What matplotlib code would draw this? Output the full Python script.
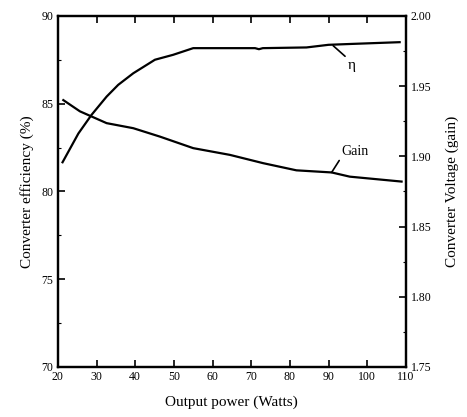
import matplotlib
matplotlib.use('Agg')
import matplotlib.pyplot as plt
from matplotlib.ticker import MultipleLocator

plt.rcParams['font.family'] = ['Liberation Serif', 'DejaVu Serif']

# efficiency curve (left axis)
eff_power = [21.2, 25.3, 28.7, 32.6, 35.6, 39.5, 45.1, 49.8, 55.0, 71.0, 72.0, 73.0, 84.3, 90.0, 95.9, 108.4]
eff_value = [81.66, 83.3, 84.36, 85.4, 86.07, 86.73, 87.5, 87.78, 88.16, 88.16, 88.10, 88.16, 88.20, 88.35, 88.40, 88.5]

# voltage gain curve (right axis)
gain_power = [21.4, 25.7, 32.6, 39.5, 46.4, 55.0, 64.5, 73.1, 81.7, 90.8, 95.5, 108.9]
gain_value = [1.940, 1.932, 1.9236, 1.920, 1.914, 1.9058, 1.901, 1.8951, 1.890, 1.8885, 1.8855, 1.882]

x_ticks = [20, 30, 40, 50, 60, 70, 80, 90, 100, 110]
x_tick_labels = ['20', '30', '40', '50', '60', '70', '80', '90', '100', '110']

fig = plt.figure(figsize=(4.67, 4.17), dpi=100)
ax = fig.add_axes([0.124, 0.120, 0.745, 0.842])
ax2 = ax.twinx()

ax.plot(eff_power, eff_value, color='black', lw=1.6)
ax2.plot(gain_power, gain_value, color='black', lw=1.6)

ax.set_xlim(20, 110)
ax.set_ylim(70, 90)
ax2.set_ylim(1.75, 2.00)

ax.set_xticks(x_ticks)
ax.set_xticklabels(x_tick_labels)
ax.set_yticks([70, 75, 80, 85, 90])
ax.yaxis.set_minor_locator(MultipleLocator(2.5))
ax2.set_yticks([1.75, 1.80, 1.85, 1.90, 1.95, 2.00])
ax2.set_yticklabels(['1.75', '1.80', '1.85', '1.90', '1.95', '2.00'])
ax2.yaxis.set_minor_locator(MultipleLocator(0.025))

ax.tick_params(axis='x', direction='in', top=True, length=5, width=1.2, labelsize=8.5, pad=3)
ax.tick_params(axis='y', which='major', direction='in', length=5, width=1.2, labelsize=8.5)
ax.tick_params(axis='y', which='minor', direction='in', length=2.5, width=0.8)
ax2.tick_params(axis='y', which='major', direction='in', length=5, width=1.2, labelsize=8.5)
ax2.tick_params(axis='y', which='minor', direction='in', length=2.5, width=0.8)

for a in (ax, ax2):
    for s in a.spines.values():
        s.set_linewidth(1.6)

ax.set_xlabel('Output power (Watts)', fontsize=11, labelpad=9)
ax.set_ylabel('Converter efficiency (%)', fontsize=11, labelpad=5)
ax2.set_ylabel('Converter Voltage (gain)', fontsize=11, rotation=90, labelpad=10)

# curve labels with leader lines
ax.annotate('η', xy=(91.2, 88.3), xytext=(95.0, 87.2), fontsize=11,
            ha='left', va='center',
            arrowprops=dict(arrowstyle='-', color='black', lw=1.2,
                            shrinkA=0, shrinkB=0, relpos=(0.15, 0.9)))
ax2.annotate('Gain', xy=(90.8, 1.8885), xytext=(93.2, 1.9036), fontsize=10,
             ha='left', va='center',
             arrowprops=dict(arrowstyle='-', color='black', lw=1.2,
                             shrinkA=0, shrinkB=0, relpos=(0.05, 0.15)))

fig.savefig('out.png', dpi=100)
